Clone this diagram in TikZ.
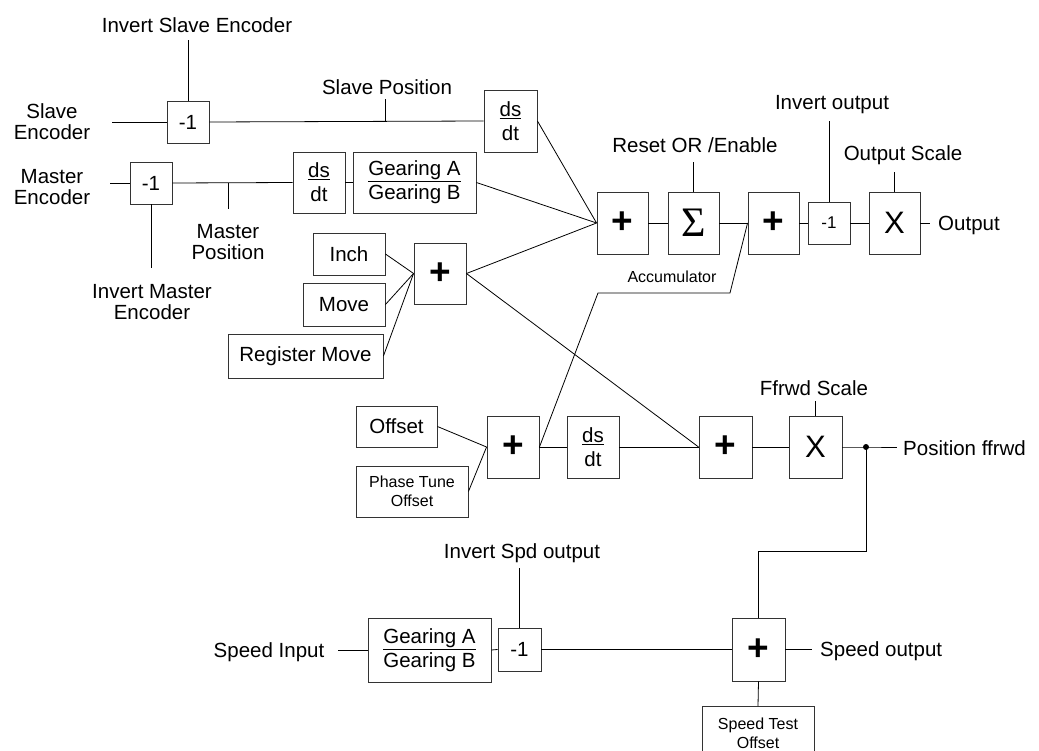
\documentclass[tikz,border=0pt]{standalone}
\usepackage{fontspec}
\setmainfont{Liberation Sans}
\newfontfamily\sigfont{Liberation Serif}
\newcommand\plussym{\raisebox{-3pt}{\bfseries +}}
\begin{document}
\begin{tikzpicture}[x=1pt,y=-1pt,
  every node/.style={font=\fontsize{20.5}{21}\selectfont, inner sep=0pt, text=black},
  box/.style n args={2}{draw=black!80, line width=0.9pt, minimum width=#1 pt, minimum height=#2 pt, align=center},
  frac/.style={font=\fontsize{20.5}{24}\selectfont},
  sym/.style={font=\fontsize{37}{37}\selectfont},
  small/.style={font=\fontsize{16}{18.5}\selectfont},
  wire/.style={line width=0.8pt, black},
  lbl/.style={align=center}
]
\useasboundingbox (0,0) rectangle (1039,751);
\clip (0,0) rectangle (1039,751);

% ---------- top section ----------
\node[box={42}{42}] (sneg) at (188,122) {-1};
\node[box={53}{62}, frac] (sds) at (510.5,121) {\underline{ds}\\dt};
\node[box={42}{42}] (mneg) at (151,183) {-1};
\node[box={52}{61}, frac] (mds) at (319,182.5) {\underline{ds}\\dt};
\node[box={123}{61}, frac] (mgear) at (414.5,182.5) {\underline{Gearing A}\\Gearing B};
\node[box={72}{42}] (inch) at (349,254) {Inch};
\node[box={82}{43}] (move) at (344,304.5) {Move};
\node[box={155}{44}] (regmove) at (305.5,356) {Register Move};
\node[box={52}{61}, sym] (plusA) at (440,273.5) {\plussym};

\node[box={51}{62}, sym] (plusM) at (622.5,223) {\plussym};
\node[box={51}{62}, font=\fontsize{42}{42}\sigfont] (sigma) at (693.5,223) {Σ};
\node[box={51}{62}, sym] (plusB) at (773.5,223) {\plussym};
\node[box={42}{42}, font=\fontsize{17}{17}\selectfont] (oneg) at (829,223) {-1};
\node[box={51}{62}, font=\fontsize{31}{31}\selectfont] (oscale) at (894.5,223) {X};

% labels top
\node[lbl] (lisl) at (197,25) {Invert Slave Encoder};
\node[lbl] (lsenc) at (52,122) {Slave\\Encoder};
\node[lbl] (lspos) at (387,87) {Slave Position};
\node[lbl] (lmenc) at (52,187) {Master\\Encoder};
\node[lbl] (limenc) at (152,302) {Invert Master\\Encoder};
\node[lbl] (lmpos) at (228,242) {Master\\Position};
\node[lbl] (lreset) at (695,145) {Reset OR /Enable};
\node[lbl] (linvo) at (832,105) {Invert output};
\node[lbl] (loscale) at (903,155) {Output Scale};
\node[anchor=west] (lout) at (938,225) {Output};
\node[small] (lacc) at (672,277) {Accumulator};

\coordinate (senc) at (112,122);
\coordinate (spt) at (385,122);
\coordinate (menc) at (110,183);
\coordinate (mpt) at (228,183);

\draw[wire] (senc) -- (sneg.west);
\draw[wire] (sneg.east) -- (sds.west);
\draw[wire] (spt) -- ++(0,-23);
\draw[wire] (sneg.north) -- ++(0,-61);
\draw[wire] (menc) -- (mneg.west);
\draw[wire] (mneg.east) -- (mds.west);
\draw[wire] (mpt) -- ++(0,26);
\draw[wire] (mneg.south) -- ++(0,64);
\draw[wire] (mds.east) -- (mgear.west);

\draw[wire] (sds.east) -- (plusM.west);
\draw[wire] (mgear.east) -- (plusM.west);
\draw[wire] (plusA.east) -- (plusM.west);
\draw[wire] (inch.east) -- (plusA.west);
\draw[wire] (move.east) -- (plusA.west);
\draw[wire] (regmove.east) -- (plusA.west);

\draw[wire] (plusM.east) -- (sigma.west);
\draw[wire] (sigma.east) -- (plusB.west);
\draw[wire] (plusB.east) -- (oneg.west);
\draw[wire] (oneg.east) -- (oscale.west);
\draw[wire] (oscale.east) -- ++(10,0);
\draw[wire] (sigma.north) -- ++(0,-30);
\draw[wire] (oneg.north) -- ++(0,-81);
\draw[wire] (oscale.north) -- ++(0,-20);

% ---------- middle section ----------
\node[box={81}{41}] (offset) at (396.5,426.5) {Offset};
\node[box={112}{51}, small, align=center] (phase) at (412,491.5) {Phase Tune\\Offset};
\node[box={52}{62}, sym] (plusC) at (513,447) {\plussym};
\node[box={52}{62}, frac] (lds) at (593,447) {\underline{ds}\\dt};
\node[box={53}{62}, sym] (plusD) at (725.5,447) {\plussym};
\node[box={53}{62}, font=\fontsize{31}{31}\selectfont] (fscale) at (815.5,447) {X};
\node[lbl] (lfscale) at (814,388) {Ffrwd Scale};
\node[anchor=west] (lpos) at (903,448) {Position ffrwd};
\coordinate (dot) at (866,447);

\draw[wire] (offset.east) -- (plusC.west);
\draw[wire] (phase.east) -- (plusC.west);
\draw[wire] (plusC.east) -- (lds.west);
\draw[wire] (lds.east) -- (plusD.west);
\draw[wire] (plusD.east) -- (fscale.west);
\draw[wire] (fscale.east) -- (dot) -- ++(31,0);
\fill (dot) circle (3pt);
\draw[wire] (fscale.north) -- ++(0,-15);
\draw[wire] (plusA.east) -- (plusD.west);
\draw[wire] (plusC.east) -- (598,293) -- (730,293) -- (plusB.west);

% ---------- bottom section ----------
\node[box={123}{64}, frac] (sgear) at (429.5,650) {\underline{Gearing A}\\Gearing B};
\node[box={43}{43}] (sneg2) at (519.5,649.5) {-1};
\node[box={53}{63}, sym] (plusE) at (758.5,649.5) {\plussym};
\node[box={112}{54}, small, align=center, anchor=north] (stoff) at (758,706) {Speed Test\\Offset};
\node[lbl] (lispd) at (522,553) {Invert Spd output};
\node[lbl] (lsin) at (269,652) {Speed Input};
\node[anchor=west] (lsout) at (820,651) {Speed output};
\coordinate (sin) at (338,650);

\draw[wire] (sin) -- (sgear.west);
\draw[wire] (sgear.east) -- (sneg2.west);
\draw[wire] (sneg2.east) -- (plusE.west);
\draw[wire] (sneg2.north) -- ++(0,-60);
\draw[wire] (plusE.east) -- ++(27,0);
\draw[wire] (plusE.south) -- (stoff.north);
\draw[wire] (dot) -- (866,551) -- (758.5,551) -- (plusE.north);
\end{tikzpicture}
\end{document}
